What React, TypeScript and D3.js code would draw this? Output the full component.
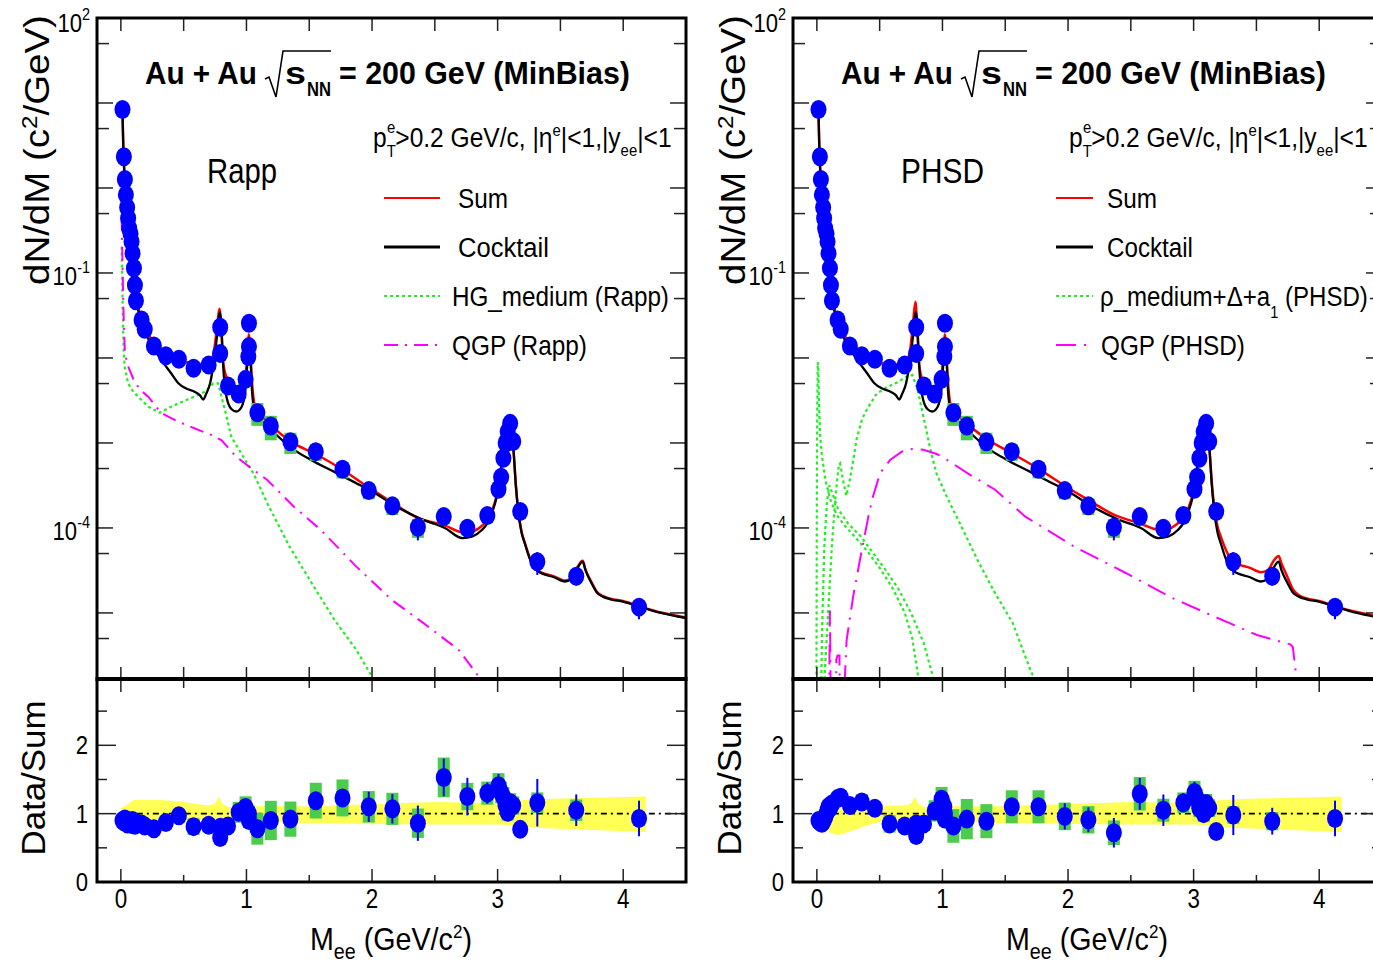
import React, { useLayoutEffect, useRef } from 'react';
import * as d3 from 'd3';

type Pt = [number, number];

const FONT = "'Liberation Sans', Arial, Helvetica, sans-serif";

// ---------- measured dielectron spectrum (shared by both panels) ----------
const massPts = [
  0.013, 0.024, 0.032, 0.04, 0.05, 0.058, 0.066, 0.077, 0.085, 0.093, 0.104, 0.112, 0.12,
  0.165, 0.19, 0.263, 0.358, 0.462, 0.579, 0.699, 0.791, 0.791, 0.853, 0.938, 0.993,
  1.015, 1.02, 1.02, 1.087, 1.194, 1.35, 1.552, 1.765, 1.974, 2.162, 2.365, 2.571, 2.759,
  2.918, 3.007, 3.028, 3.046, 3.064, 3.08, 3.1, 3.124, 3.18, 3.316, 3.626, 4.126,
];
const yieldPts = [
  8.4, 2.33, 1.26, 0.83, 0.59, 0.44, 0.336, 0.29, 0.233, 0.17, 0.114, 0.072, 0.047,
  0.028, 0.0218, 0.0138, 0.0106, 0.00966, 0.00757, 0.00828, 0.0113, 0.023, 0.00469, 0.00377, 0.0056,
  0.0104, 0.0136, 0.0256, 0.00227, 0.00158, 0.00103, 0.00079, 0.00049, 0.000275, 0.000182, 0.000102, 0.000136, 9.9e-5,
  0.00014, 0.000285, 0.000395, 0.00066, 0.001, 0.00136, 0.0017, 0.00104, 0.000156, 4.0e-5, 2.7e-5, 1.17e-5,
];
const statRel = [
  0.02, 0.02, 0.02, 0.02, 0.02, 0.02, 0.02, 0.02, 0.02, 0.02, 0.02, 0.02, 0.02,
  0.03, 0.03, 0.04, 0.05, 0.05, 0.05, 0.05, 0.05, 0.05, 0.05, 0.05, 0.05,
  0.05, 0.05, 0.05, 0.06, 0.07, 0.08, 0.1, 0.1, 0.2, 0.2, 0.3, 0.18, 0.22,
  0.12, 0.12, 0.08, 0.08, 0.08, 0.08, 0.08, 0.08, 0.1, 0.3, 0.22, 0.28,
];
const sysRel = [
  0.06, 0.06, 0.06, 0.06, 0.06, 0.06, 0.06, 0.06, 0.06, 0.06, 0.06, 0.06, 0.06,
  0.08, 0.08, 0.08, 0.1, 0.08, 0.15, 0.12, 0.12, 0.12, 0.12, 0.15, 0.15,
  0.12, 0.12, 0.12, 0.3, 0.32, 0.28, 0.22, 0.22, 0.21, 0.22, 0.25, 0.19, 0.16,
  0.13, 0.13, 0.12, 0.12, 0.12, 0.12, 0.12, 0.12, 0.1, 0.13, 0.15, 0.11,
];
const ratioRapp = [
  0.9, 0.88, 0.92, 0.87, 0.85, 0.9, 0.86, 0.88, 0.84, 0.9, 0.86, 0.83, 0.87,
  0.85, 0.82, 0.78, 0.87, 0.97, 0.81, 0.83, 0.8, 0.65, 0.82, 1.02, 1.09,
  0.95, 0.9, 1.0, 0.78, 0.9, 0.92, 1.19, 1.23, 1.1, 1.07, 0.86, 1.53, 1.25,
  1.3, 1.41, 1.31, 1.24, 1.12, 1.02, 1.16, 1.12, 0.77, 1.16, 1.05, 0.93,
];
const ratioPhsd = [
  0.9, 0.88, 0.87, 0.86, 0.88, 0.92, 0.95, 1.0, 1.05, 1.1, 1.08, 1.12, 1.14,
  1.22, 1.24, 1.12, 1.17, 1.08, 0.85, 0.82, 0.85, 0.68, 0.85, 1.04, 1.21,
  1.1, 0.92, 1.0, 0.82, 0.92, 0.89, 1.1, 1.1, 0.96, 0.91, 0.72, 1.29, 1.05,
  1.16, 1.31, 1.21, 1.08, 1.13, 1.0, 1.15, 1.08, 0.74, 0.98, 0.89, 0.93,
];

// ---------- model curves: [mass GeV/c^2, log10(dN/dM)] ----------
const cocktailCurve: Pt[] = [
  [0.012, 0.95], [0.02, 0.45], [0.03, 0.12], [0.04, -0.08], [0.05, -0.23], [0.06, -0.36], [0.07, -0.47],
  [0.08, -0.56], [0.09, -0.68], [0.1, -0.85], [0.11, -1.05], [0.12, -1.25], [0.14, -1.45], [0.17, -1.6],
  [0.2, -1.72], [0.25, -1.86], [0.32, -2.02], [0.4, -2.18], [0.46, -2.3], [0.52, -2.36], [0.59, -2.4],
  [0.63, -2.44], [0.656, -2.49], [0.68, -2.42], [0.71, -2.3], [0.74, -2.05], [0.765, -1.75], [0.782, -1.5],
  [0.79, -1.46], [0.8, -1.6], [0.815, -2.1], [0.84, -2.45], [0.88, -2.6], [0.92, -2.63], [0.96, -2.58],
  [0.99, -2.4], [1.005, -2.1], [1.015, -1.82], [1.02, -1.76], [1.03, -1.95], [1.045, -2.4], [1.065, -2.62],
  [1.1, -2.7], [1.2, -2.85], [1.36, -3.06], [1.514, -3.2], [1.7, -3.34], [1.87, -3.47], [2.0, -3.57],
  [2.22, -3.77], [2.4, -3.9], [2.58, -4.0], [2.72, -4.12], [2.8, -4.1], [2.87, -4.03], [2.92, -3.94],
  [2.96, -3.8], [2.99, -3.65], [3.02, -3.4], [3.04, -3.12], [3.06, -2.9], [3.085, -2.71], [3.105, -2.8],
  [3.128, -3.12], [3.145, -3.5], [3.163, -3.79], [3.19, -4.05], [3.216, -4.18], [3.27, -4.415], [3.32, -4.51],
  [3.45, -4.58], [3.535, -4.63], [3.59, -4.6], [3.64, -4.46], [3.677, -4.396], [3.7, -4.5], [3.748, -4.65],
  [3.79, -4.76], [3.837, -4.808], [3.9, -4.84], [3.997, -4.867], [4.17, -4.945], [4.3, -5.0], [4.5, -5.06],
];
const sumRappCurve: Pt[] = [
  [0.012, 0.95], [0.02, 0.45], [0.03, 0.12], [0.04, -0.08], [0.05, -0.23], [0.06, -0.36], [0.07, -0.47],
  [0.08, -0.56], [0.09, -0.68], [0.1, -0.85], [0.11, -1.05], [0.12, -1.25], [0.14, -1.42], [0.17, -1.55],
  [0.2, -1.66], [0.25, -1.8], [0.3, -1.9], [0.4, -1.99], [0.5, -2.04], [0.6, -2.07], [0.7, -2.07],
  [0.74, -1.93], [0.765, -1.65], [0.785, -1.42], [0.8, -1.7], [0.815, -2.05], [0.84, -2.22], [0.88, -2.3],
  [0.92, -2.38], [0.96, -2.37], [0.99, -2.25], [1.005, -2.0], [1.015, -1.78], [1.02, -1.72], [1.03, -1.9],
  [1.045, -2.3], [1.065, -2.55], [1.1, -2.64], [1.2, -2.8], [1.36, -2.99], [1.55, -3.13], [1.75, -3.3],
  [1.97, -3.52], [2.16, -3.7], [2.36, -3.88], [2.58, -3.97], [2.72, -4.05], [2.8, -4.04], [2.87, -3.98],
  [2.92, -3.9], [2.96, -3.78], [2.99, -3.63], [3.02, -3.39], [3.04, -3.11], [3.06, -2.9], [3.085, -2.705],
  [3.105, -2.795], [3.128, -3.115], [3.145, -3.49], [3.163, -3.78], [3.19, -4.04], [3.216, -4.17],
  [3.27, -4.405], [3.32, -4.5], [3.45, -4.57], [3.535, -4.62], [3.59, -4.59], [3.64, -4.45], [3.677, -4.386],
  [3.7, -4.49], [3.748, -4.64], [3.79, -4.75], [3.837, -4.8], [3.9, -4.833], [3.997, -4.86], [4.17, -4.94],
  [4.3, -4.995], [4.5, -5.055],
];
const sumPhsdCurve: Pt[] = [
  [0.012, 0.95], [0.02, 0.45], [0.03, 0.12], [0.04, -0.08], [0.05, -0.23], [0.06, -0.36], [0.07, -0.47],
  [0.08, -0.56], [0.09, -0.68], [0.1, -0.85], [0.11, -1.05], [0.12, -1.25], [0.14, -1.42], [0.17, -1.55],
  [0.2, -1.66], [0.25, -1.82], [0.3, -1.93], [0.4, -2.01], [0.5, -2.06], [0.6, -2.08], [0.7, -2.06],
  [0.74, -1.93], [0.765, -1.6], [0.785, -1.34], [0.8, -1.7], [0.815, -2.08], [0.84, -2.25], [0.88, -2.33],
  [0.92, -2.4], [0.96, -2.38], [0.99, -2.25], [1.005, -2.0], [1.015, -1.78], [1.02, -1.72], [1.03, -1.9],
  [1.045, -2.3], [1.065, -2.55], [1.1, -2.63], [1.2, -2.78], [1.36, -2.96], [1.55, -3.12], [1.75, -3.29],
  [1.97, -3.5], [2.16, -3.67], [2.36, -3.84], [2.58, -3.95], [2.72, -4.02], [2.8, -4.01], [2.87, -3.95],
  [2.92, -3.88], [2.96, -3.76], [2.99, -3.62], [3.02, -3.38], [3.04, -3.1], [3.06, -2.89], [3.085, -2.7],
  [3.105, -2.79], [3.128, -3.1], [3.145, -3.47], [3.163, -3.74], [3.19, -3.98], [3.216, -4.1], [3.27, -4.3],
  [3.32, -4.4], [3.45, -4.47], [3.535, -4.52], [3.59, -4.5], [3.64, -4.38], [3.677, -4.33], [3.7, -4.42],
  [3.748, -4.58], [3.79, -4.72], [3.837, -4.79], [3.9, -4.83], [3.997, -4.86], [4.17, -4.94], [4.3, -4.99],
  [4.5, -5.05],
];
const hgMediumRapp: Pt[] = [
  [0.006, -0.69], [0.01, -1.0], [0.015, -1.45], [0.022, -1.9], [0.03, -2.1], [0.058, -2.3], [0.1, -2.4],
  [0.138, -2.455], [0.218, -2.573], [0.31, -2.645], [0.404, -2.57], [0.536, -2.486], [0.67, -2.396],
  [0.735, -2.3], [0.775, -2.3], [0.8, -2.45], [0.83, -2.62], [0.88, -2.93], [0.97, -3.15], [1.06, -3.37],
  [1.166, -3.71], [1.343, -4.22], [1.52, -4.65], [1.7, -5.08], [1.875, -5.435], [2.0, -5.75], [2.03, -5.85],
];
const qgpRapp: Pt[] = [
  [0.006, -0.34], [0.012, -0.8], [0.02, -1.4], [0.032, -1.945], [0.058, -2.1], [0.1, -2.25], [0.15, -2.37],
  [0.218, -2.455], [0.31, -2.63], [0.35, -2.67], [0.457, -2.75], [0.59, -2.83], [0.72, -2.906], [0.8, -2.965],
  [0.917, -3.16], [1.04, -3.3], [1.166, -3.435], [1.378, -3.75], [1.59, -4.02], [1.875, -4.455], [2.16, -4.85],
  [2.41, -5.12], [2.69, -5.435], [2.85, -5.75], [2.88, -5.85],
];
const rhoPhsdSpike: Pt[] = [
  [-0.004, -6.5], [-0.002, -5.0], [0.0, -3.6], [0.003, -2.6], [0.007, -2.05], [0.011, -2.1], [0.016, -2.5],
  [0.025, -2.9], [0.04, -3.15], [0.07, -3.45], [0.11, -3.68], [0.16, -3.85], [0.22, -3.97], [0.3, -4.1],
  [0.4, -4.27], [0.5, -4.47], [0.6, -4.7], [0.7, -5.0], [0.76, -5.3], [0.81, -5.78], [0.83, -6.2],
];
const rhoPhsdBump: Pt[] = [
  [0.04, -6.2], [0.06, -5.78], [0.09, -5.0], [0.12, -4.2], [0.15, -3.6], [0.175, -3.26], [0.185, -3.24],
  [0.21, -3.45], [0.235, -3.62], [0.26, -3.45], [0.29, -3.2], [0.317, -2.95], [0.36, -2.72], [0.4, -2.6],
  [0.476, -2.42], [0.55, -2.35], [0.636, -2.29], [0.716, -2.22], [0.76, -2.2], [0.8, -2.36], [0.85, -2.7],
  [0.9, -3.05], [0.95, -3.35], [1.04, -3.65], [1.14, -3.95], [1.28, -4.38], [1.42, -4.77], [1.56, -5.12],
  [1.7, -5.67], [1.74, -5.8],
];
const rhoPhsdTail: Pt[] = [
  [0.03, -6.2], [0.045, -5.0], [0.06, -4.2], [0.08, -3.7], [0.1, -3.5], [0.13, -3.62], [0.17, -3.78],
  [0.25, -3.95], [0.35, -4.1], [0.45, -4.3], [0.55, -4.5], [0.65, -4.72], [0.75, -5.0], [0.85, -5.35],
  [0.93, -5.78], [0.95, -6.0],
];
const qgpPhsd: Pt[] = [
  [0.097, -6.5], [0.1, -5.6], [0.104, -4.97], [0.108, -5.6], [0.112, -6.5], [0.15, -6.5], [0.155, -5.55],
  [0.165, -5.5], [0.18, -5.5], [0.185, -6.5], [0.2, -6.5], [0.237, -5.32], [0.29, -4.8], [0.343, -4.376],
  [0.41, -3.867], [0.447, -3.63], [0.503, -3.357], [0.583, -3.2], [0.689, -3.09], [0.76, -3.07],
  [0.848, -3.08], [0.955, -3.13], [1.06, -3.22], [1.22, -3.376], [1.42, -3.55], [1.66, -3.867], [2.05, -4.22],
  [2.46, -4.53], [2.81, -4.81], [3.16, -5.04], [3.505, -5.26], [3.77, -5.37], [3.79, -5.4], [3.82, -5.78],
  [3.83, -6.5],
];

// ---------- cocktail uncertainty band in the ratio panels ----------
const bandMass = [0, 0.05, 0.1, 0.15, 0.2, 0.3, 0.4, 0.5, 0.6, 0.7, 0.75, 0.78, 0.81, 0.85, 0.9, 1.0, 1.1, 1.5, 2.0, 2.5, 2.9, 3.0, 3.1, 3.2, 3.5, 4.18];
const bandRappHi = [1.08, 1.13, 1.2, 1.2, 1.2, 1.2, 1.19, 1.17, 1.14, 1.12, 1.15, 1.25, 1.14, 1.1, 1.09, 1.1, 1.11, 1.11, 1.14, 1.17, 1.16, 1.15, 1.14, 1.2, 1.22, 1.25];
const bandRappLo = [0.92, 0.91, 0.9, 0.9, 0.9, 0.9, 0.9, 0.9, 0.9, 0.91, 0.92, 0.93, 0.91, 0.9, 0.89, 0.9, 0.88, 0.86, 0.85, 0.84, 0.84, 0.84, 0.83, 0.8, 0.78, 0.73];
const bandPhsdHi = [1.05, 1.07, 1.08, 1.07, 1.06, 1.06, 1.07, 1.1, 1.12, 1.12, 1.15, 1.25, 1.14, 1.1, 1.09, 1.1, 1.11, 1.11, 1.14, 1.17, 1.16, 1.15, 1.14, 1.2, 1.22, 1.25];
const bandPhsdLo = [0.92, 0.85, 0.73, 0.69, 0.7, 0.76, 0.83, 0.88, 0.9, 0.91, 0.92, 0.93, 0.91, 0.9, 0.89, 0.9, 0.88, 0.86, 0.85, 0.84, 0.84, 0.84, 0.83, 0.8, 0.78, 0.73];

// ---------- axes ----------
const massDomain = [-0.19, 4.5];
const yieldDomain = [1.67e-6, 100];
const ratioDomain = [0, 2.97];
const massTickLabels = [0, 1, 2, 3, 4];
const ratioTickLabels = [0, 1, 2];
const logTickLabels = [
  { v: 100, exp: '2' },
  { v: 0.1, exp: '-1' },
  { v: 1e-4, exp: '-4' },
];

const BLUE = '#0000ff';
const SYS_GREEN = '#4ccc4c';
const BAND_YELLOW = '#ffff55';
const RED = '#ff0000';
const CURVE_GREEN = '#22ee22';
const MAGENTA = '#ff00ff';

// Text squeezed or stretched horizontally to an exact width.
function FitText(props: {
  x: number; y: number; w: number; size: number;
  anchor?: 'start' | 'middle' | 'end'; rotate?: number; weight?: string | number; children: React.ReactNode;
}) {
  const g = useRef<SVGGElement>(null);
  const t = useRef<SVGTextElement>(null);
  const rot = props.rotate ?? 0;
  useLayoutEffect(() => {
    if (!g.current || !t.current) return;
    const bb = t.current.getBBox();
    if (!bb.width) return;
    const s = props.w / bb.width;
    const a = props.anchor ?? 'start';
    const ax = a === 'start' ? bb.x : a === 'middle' ? bb.x + bb.width / 2 : bb.x + bb.width;
    g.current.setAttribute('transform', `translate(${props.x},${props.y}) rotate(${rot}) scale(${s},1) translate(${-ax},0)`);
  });
  return (
    <g ref={g} transform={`translate(${props.x},${props.y}) rotate(${rot})`}>
      <text ref={t} x={0} y={0} fontSize={props.size} fontWeight={props.weight ?? 'normal'} fontFamily={FONT} fill="#000">
        {props.children}
      </text>
    </g>
  );
}

type Curve = { pts: Pt[]; color: string; width: number; dash?: string };
type LegendItem = { label: React.ReactNode; w: number; textX: number; color: string; width: number; dash?: string };

function Panel(props: {
  ox: number; id: string; model: string; modelX: number; modelW: number;
  components: Curve[]; sum: Pt[]; ratio: number[]; bandHi: number[]; bandLo: number[];
  legend: LegendItem[]; legendX1: number; legendX2: number;
}) {
  const { ox, id } = props;
  const L = 97 + ox, R = 686 + ox, T = 18, MID = 679, B = 882;
  const x = d3.scaleLinear().domain(massDomain).range([L, R]);
  const y = d3.scaleLog().domain(yieldDomain).range([MID, T]);
  const yr = d3.scaleLinear().domain(ratioDomain).range([B, MID]);
  const line = d3.line<Pt>().x(d => x(d[0])).y(d => y(Math.pow(10, d[1])));
  const smooth = d3.line<Pt>().x(d => x(d[0])).y(d => y(Math.pow(10, d[1]))).curve(d3.curveMonotoneX);
  const band = d3.area<number>()
    .x((_, i) => x(bandMass[i]))
    .y0((_, i) => yr(props.bandLo[i]))
    .y1((_, i) => yr(props.bandHi[i]));

  const logMajors = d3.range(-5, 3).map(k => Math.pow(10, k));
  const logMinors = d3.range(-6, 2).map(k => 5 * Math.pow(10, k)).filter(v => v > yieldDomain[0] && v < yieldDomain[1]);
  const halfSteps = d3.range(0, 4.5, 0.5);
  const ratioSteps = d3.range(0.5, 2.99, 0.5);
  const tick = { stroke: '#222', strokeWidth: 1.5 };
  const idx = d3.range(massPts.length);

  return (
    <g>
      <defs>
        <clipPath id={`${id}-top`}><rect x={L} y={T} width={R - L} height={MID - T} /></clipPath>
        <clipPath id={`${id}-bot`}><rect x={L} y={MID} width={R - L} height={B - MID} /></clipPath>
      </defs>

      {/* spectrum */}
      <g clipPath={`url(#${id}-top)`}>
        {props.components.map((c, i) => (
          <path key={i} d={line(c.pts) ?? ''} fill="none" stroke={c.color} strokeWidth={c.width} strokeDasharray={c.dash} />
        ))}
        <path d={smooth(props.sum) ?? ''} fill="none" stroke={RED} strokeWidth={2.5} />
        <path d={smooth(cocktailCurve) ?? ''} fill="none" stroke="#000" strokeWidth={2.3} />
        {idx.map(i => (
          <rect key={`s${i}`} x={x(massPts[i]) - 6} width={12}
            y={y(yieldPts[i] * (1 + sysRel[i]))}
            height={y(yieldPts[i] * (1 - sysRel[i])) - y(yieldPts[i] * (1 + sysRel[i]))} fill={SYS_GREEN} />
        ))}
        {idx.map(i => (
          <line key={`e${i}`} x1={x(massPts[i])} x2={x(massPts[i])}
            y1={y(yieldPts[i] * (1 + statRel[i]))} y2={y(yieldPts[i] * (1 - statRel[i]))} stroke={BLUE} strokeWidth={2} />
        ))}
        {idx.map(i => (
          <ellipse key={`p${i}`} cx={x(massPts[i])} cy={y(yieldPts[i])} rx={8} ry={9.5} fill={BLUE} />
        ))}
      </g>

      {/* data / sum */}
      <g clipPath={`url(#${id}-bot)`}>
        <path d={band(bandMass) ?? ''} fill={BAND_YELLOW} />
        <line x1={x(0)} x2={R} y1={yr(1)} y2={yr(1)} stroke="#000" strokeWidth={1.8} strokeDasharray="6 4 2 4" />
        {idx.map(i => (
          <rect key={`rs${i}`} x={x(massPts[i]) - 6} width={12}
            y={yr(props.ratio[i] * (1 + sysRel[i]))}
            height={yr(props.ratio[i] * (1 - sysRel[i])) - yr(props.ratio[i] * (1 + sysRel[i]))} fill={SYS_GREEN} />
        ))}
        {idx.map(i => (
          <line key={`re${i}`} x1={x(massPts[i])} x2={x(massPts[i])}
            y1={yr(props.ratio[i] * (1 + statRel[i]))} y2={yr(props.ratio[i] * (1 - statRel[i]))} stroke={BLUE} strokeWidth={2} />
        ))}
        {idx.map(i => (
          <ellipse key={`rp${i}`} cx={x(massPts[i])} cy={yr(props.ratio[i])} rx={8} ry={9.5} fill={BLUE} />
        ))}
      </g>

      {/* ticks */}
      {logMajors.map(v => (
        <g key={`lm${v}`}>
          <line x1={L} x2={L + 16} y1={y(v)} y2={y(v)} {...tick} />
          <line x1={R} x2={R - 16} y1={y(v)} y2={y(v)} {...tick} />
        </g>
      ))}
      {logMinors.map(v => (
        <g key={`ln${v}`}>
          <line x1={L} x2={L + 12} y1={y(v)} y2={y(v)} {...tick} />
          <line x1={R} x2={R - 12} y1={y(v)} y2={y(v)} {...tick} />
        </g>
      ))}
      {halfSteps.map(m => (
        <g key={`hx${m}`}>
          <line x1={x(m)} x2={x(m)} y1={T} y2={T + 13} {...tick} />
          <line x1={x(m)} x2={x(m)} y1={MID} y2={MID - 12} {...tick} />
          <line x1={x(m)} x2={x(m)} y1={MID} y2={MID + (m % 1 === 0 ? 13 : 9)} {...tick} />
          <line x1={x(m)} x2={x(m)} y1={B} y2={B - (m % 1 === 0 ? 13 : 7)} {...tick} />
        </g>
      ))}
      {ratioSteps.map(v => (
        <g key={`ry${v}`}>
          <line x1={L} x2={L + (v % 1 === 0 ? 19 : 10)} y1={yr(v)} y2={yr(v)} {...tick} />
          <line x1={R} x2={R - (v % 1 === 0 ? 19 : 10)} y1={yr(v)} y2={yr(v)} {...tick} />
        </g>
      ))}

      {/* frames */}
      <rect x={L} y={T} width={R - L} height={B - T} fill="none" stroke="#000" strokeWidth={3} />
      <line x1={L - 1.5} x2={R + 1.5} y1={MID} y2={MID} stroke="#000" strokeWidth={4} />

      {/* tick labels */}
      {logTickLabels.map(t => (
        <g key={`ll${t.v}`} transform={`translate(${90 + ox},${Math.max(y(t.v) + 12, 32)}) scale(0.85,1)`}>
          <text textAnchor="end" fontSize={26} fontFamily={FONT}>
            10<tspan dy={-12} fontSize={17}>{t.exp}</tspan>
          </text>
        </g>
      ))}
      {ratioTickLabels.map(v => (
        <g key={`rl${v}`} transform={`translate(${88 + ox},${yr(v) + 9}) scale(0.85,1)`}>
          <text textAnchor="end" fontSize={26} fontFamily={FONT}>{v}</text>
        </g>
      ))}
      {massTickLabels.map(m => (
        <g key={`xl${m}`} transform={`translate(${x(m)},${908}) scale(0.8,1)`}>
          <text textAnchor="middle" fontSize={28} fontFamily={FONT}>{m}</text>
        </g>
      ))}

      {/* axis titles */}
      <FitText x={49 + ox} y={150} w={270} size={35} rotate={-90} anchor="middle">
        dN/dM (c<tspan dy={-12} fontSize={22}>2</tspan><tspan dy={12}>/GeV)</tspan>
      </FitText>
      <FitText x={45 + ox} y={778} w={155} size={34} rotate={-90} anchor="middle">Data/Sum</FitText>
      <FitText x={310 + ox} y={950} w={162} size={32}>
        M<tspan dy={9} fontSize={22}>ee</tspan><tspan dy={-9}> (GeV/c</tspan><tspan dy={-12} fontSize={19}>2</tspan><tspan dy={12}>)</tspan>
      </FitText>

      {/* headline */}
      <FitText x={145 + ox} y={84} w={112} size={32} weight="bold">Au + Au</FitText>
      <path d={`M${265 + ox},79 L${269 + ox},77 L${276 + ox},97 L${283 + ox},51 L${331 + ox},51`} fill="none" stroke="#000" strokeWidth={1.6} />
      <FitText x={285 + ox} y={84} w={21} size={32} weight="bold">s</FitText>
      <FitText x={307 + ox} y={96} w={24} size={21} weight="bold">NN</FitText>
      <FitText x={339 + ox} y={84} w={291} size={32} weight="bold">= 200 GeV (MinBias)</FitText>

      <FitText x={373 + ox} y={147} w={297} size={28}>
        p<tspan dy={10} fontSize={17}>T</tspan><tspan dx={-10} dy={-24} fontSize={17}>e</tspan>
        <tspan dy={14}>&gt;0.2 GeV/c, |η</tspan><tspan dy={-11} fontSize={17}>e</tspan>
        <tspan dy={11}>|&lt;1,|y</tspan><tspan dy={9} fontSize={17}>ee</tspan><tspan dy={-9}>|&lt;1</tspan>
      </FitText>

      <FitText x={props.modelX + ox} y={183} w={props.modelW} size={35}>{props.model}</FitText>

      {/* legend */}
      {props.legend.map((it, i) => {
        const ly = 198 + i * 49;
        return (
          <g key={`lg${i}`}>
            <line x1={props.legendX1 + ox} x2={props.legendX2 + ox} y1={ly} y2={ly} stroke={it.color} strokeWidth={it.width} strokeDasharray={it.dash} />
            <FitText x={it.textX + ox} y={ly + 10} w={it.w} size={28}>{it.label}</FitText>
          </g>
        );
      })}
    </g>
  );
}

export default function App() {
  const greenDot = '3 3';
  const rappDashDot = '14 7 2 7';
  const phsdDashDot = '20 8 2 8';
  return (
    <svg width={1373} height={965} viewBox="0 0 1373 965" style={{ position: 'absolute', left: 0, top: 0, background: '#fff' }}>
      <rect width={1373} height={965} fill="#fff" />
      <Panel
        ox={0}
        id="rapp"
        model="Rapp"
        modelX={207}
        modelW={70}
        components={[
          { pts: hgMediumRapp, color: CURVE_GREEN, width: 2.2, dash: greenDot },
          { pts: qgpRapp, color: MAGENTA, width: 2, dash: rappDashDot },
        ]}
        sum={sumRappCurve}
        ratio={ratioRapp}
        bandHi={bandRappHi}
        bandLo={bandRappLo}
        legendX1={384}
        legendX2={440}
        legend={[
          { label: 'Sum', w: 50, textX: 458, color: RED, width: 2 },
          { label: 'Cocktail', w: 91, textX: 458, color: '#000', width: 3 },
          { label: 'HG_medium (Rapp)', w: 217, textX: 452, color: CURVE_GREEN, width: 2.2, dash: greenDot },
          { label: 'QGP (Rapp)', w: 135, textX: 452, color: MAGENTA, width: 2, dash: rappDashDot },
        ]}
      />
      <Panel
        ox={696}
        id="phsd"
        model="PHSD"
        modelX={205}
        modelW={83}
        components={[
          { pts: rhoPhsdSpike, color: CURVE_GREEN, width: 2.2, dash: greenDot },
          { pts: rhoPhsdBump, color: CURVE_GREEN, width: 2.2, dash: greenDot },
          { pts: rhoPhsdTail, color: CURVE_GREEN, width: 2.2, dash: greenDot },
          { pts: qgpPhsd, color: MAGENTA, width: 2, dash: phsdDashDot },
        ]}
        sum={sumPhsdCurve}
        ratio={ratioPhsd}
        bandHi={bandPhsdHi}
        bandLo={bandPhsdLo}
        legendX1={360}
        legendX2={397}
        legend={[
          { label: 'Sum', w: 50, textX: 411, color: RED, width: 2 },
          { label: 'Cocktail', w: 86, textX: 411, color: '#000', width: 3 },
          {
            label: (<>ρ_medium+Δ+a<tspan dy={12} fontSize={17}>1</tspan><tspan dy={-12}> (PHSD)</tspan></>),
            w: 268, textX: 404, color: CURVE_GREEN, width: 2.2, dash: greenDot,
          },
          { label: 'QGP (PHSD)', w: 144, textX: 405, color: MAGENTA, width: 2, dash: phsdDashDot },
        ]}
      />
    </svg>
  );
}
